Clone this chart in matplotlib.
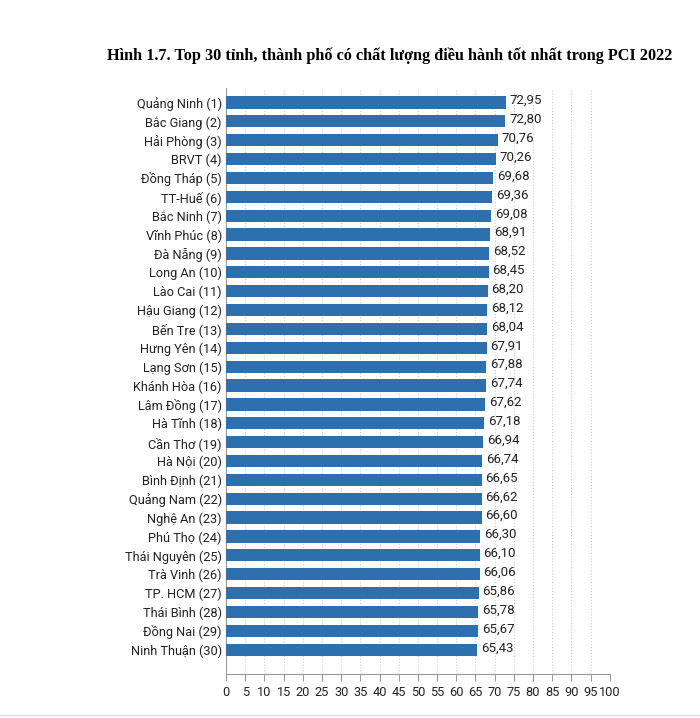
import matplotlib.pyplot as plt
import numpy as np

provinces = ["Quảng Ninh", "Bắc Giang", "Hải Phòng", "BRVT", "Đồng Tháp", "TT-Huế",
             "Bắc Ninh", "Vĩnh Phúc", "Đà Nẵng", "Long An", "Lào Cai", "Hậu Giang",
             "Bến Tre", "Hưng Yên", "Lạng Sơn", "Khánh Hòa", "Lâm Đồng", "Hà Tĩnh",
             "Cần Thơ", "Hà Nội", "Bình Định", "Quảng Nam", "Nghệ An", "Phú Thọ",
             "Thái Nguyên", "Trà Vinh", "TP. HCM", "Thái Bình", "Đồng Nai", "Ninh Thuận"]
scores = [72.95, 72.80, 70.76, 70.26, 69.68, 69.36, 69.08, 68.91, 68.52, 68.45,
          68.20, 68.12, 68.04, 67.91, 67.88, 67.74, 67.62, 67.18, 66.94, 66.74,
          66.65, 66.62, 66.60, 66.30, 66.10, 66.06, 65.86, 65.78, 65.67, 65.43]
labels = [f"{p} ({i + 1})" for i, p in enumerate(provinces)]

plt.rcParams['font.family'] = ['Roboto', 'DejaVu Sans']

fig = plt.figure(figsize=(7, 7.18), dpi=100)
ax = fig.add_axes([0.323, 0.061, 0.548, 0.816])

y = np.arange(len(scores))
ax.barh(y, scores, height=0.65, color='#2e6fad', zorder=3)
for yi, v in zip(y, scores):
    ax.text(v + 1.0, yi - 0.1, f"{v:.2f}".replace('.', ','), va='center',
            ha='left', fontsize=9.5, color='#222222')

ax.set_yticks(y)
ax.set_yticklabels(labels, fontsize=9.2, color='#222222')
ax.set_ylim(len(scores) - 1 + 1.3, -0.75)
ax.set_xlim(0, 100)
ax.set_xticks(range(0, 101, 5))
ax.tick_params(axis='x', labelsize=9.2, length=5, color='#999999', labelcolor='#222222')
ax.tick_params(axis='y', length=0, pad=3)
ax.grid(axis='x', linestyle=':', color='#cccccc', lw=0.8, zorder=0)
for s in ['top', 'right']:
    ax.spines[s].set_visible(False)
ax.spines['left'].set_color('#999999')
ax.spines['bottom'].set_color('#999999')

fig.text(0.153, 0.922, "Hình 1.7. Top 30 tỉnh, thành phố có chất lượng điều hành tốt nhất trong PCI 2022",
         fontsize=11.7, fontweight='bold', family=['Liberation Serif', 'DejaVu Serif'], va='center')
fig.add_artist(plt.Line2D([0, 1], [0.004, 0.004], color='#dddddd', lw=1))

fig.savefig('out.png', dpi=100)
